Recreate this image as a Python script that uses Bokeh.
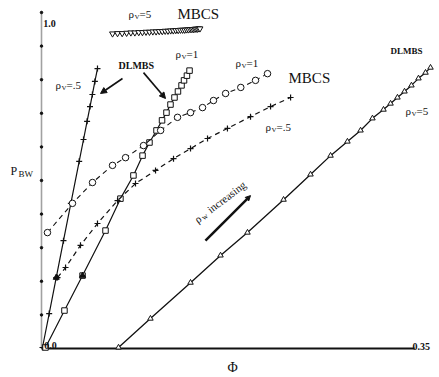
from bokeh.plotting import figure
from bokeh.models import Range1d, Arrow, NormalHead
from bokeh.core.properties import value
from bokeh.embed import file_html
from bokeh.resources import INLINE

# ---------------- data (phi, P_BW) ----------------
dl_v05_phi = [0.0009, 0.0071, 0.0136, 0.0203, 0.0271, 0.0348, 0.0388, 0.0421, 0.0448, 0.0470, 0.0493, 0.0517]
dl_v05_p   = [0.003, 0.104, 0.211, 0.321, 0.432, 0.557, 0.622, 0.676, 0.720, 0.756, 0.795, 0.833]

dl_v1_phi = [0.0037, 0.0212, 0.0379, 0.0591, 0.0729, 0.0849, 0.0933, 0.0997, 0.1062, 0.1113,
             0.1154, 0.1191, 0.1228, 0.1260, 0.1293, 0.1316, 0.1343, 0.1367]
dl_v1_p   = [0.003, 0.113, 0.217, 0.351, 0.446, 0.515, 0.574, 0.613, 0.649, 0.679,
             0.702, 0.726, 0.747, 0.765, 0.783, 0.798, 0.812, 0.827]

dl_v5_phi = [0.0711, 0.1006, 0.1376, 0.1653, 0.1902, 0.2235, 0.2484, 0.2669, 0.2825, 0.2946,
             0.3056, 0.3158, 0.3223, 0.3287, 0.3352, 0.3416, 0.3481, 0.3546, 0.3592]
dl_v5_p   = [0.003, 0.089, 0.196, 0.277, 0.345, 0.443, 0.518, 0.574, 0.616, 0.649,
             0.685, 0.711, 0.729, 0.747, 0.765, 0.783, 0.804, 0.821, 0.836]

mb_v05_phi = [0.0148, 0.0222, 0.0360, 0.0517, 0.0702, 0.0868, 0.1053, 0.1219, 0.1376, 0.1533,
              0.1717, 0.1930, 0.2115, 0.2300]
mb_v05_p   = [0.211, 0.241, 0.307, 0.372, 0.440, 0.491, 0.530, 0.565, 0.595, 0.625,
              0.655, 0.690, 0.720, 0.747]

mb_v1_phi = [0.0055, 0.0286, 0.0471, 0.0656, 0.0776, 0.0942, 0.1100, 0.1256, 0.1376, 0.1487,
             0.1588, 0.1700, 0.1840, 0.1976, 0.2087]
mb_v1_p   = [0.345, 0.432, 0.494, 0.545, 0.568, 0.604, 0.649, 0.688, 0.702, 0.717,
             0.738, 0.759, 0.777, 0.798, 0.818]

mb_v5_phi = [0.0656, 0.0702, 0.0745, 0.0786, 0.0825, 0.0862, 0.0898, 0.0932, 0.0965, 0.0997,
             0.1028, 0.1058, 0.1087, 0.1115, 0.1142, 0.1168, 0.1193, 0.1217, 0.1240, 0.1262,
             0.1283, 0.1303, 0.1322, 0.1340, 0.1357, 0.1373, 0.1388, 0.1402, 0.1415, 0.1427,
             0.1440, 0.1452, 0.1463]
mb_v5_p   = [0.937, 0.938, 0.938, 0.939, 0.940, 0.940, 0.941, 0.941, 0.942, 0.942,
             0.943, 0.943, 0.944, 0.944, 0.945, 0.945, 0.946, 0.946, 0.947, 0.947,
             0.948, 0.948, 0.948, 0.949, 0.949, 0.950, 0.950, 0.950, 0.951, 0.951,
             0.951, 0.952, 0.952]

start_phi = [0.0136, 0.0379]
start_p   = [0.211, 0.217]

y_ticks = [0.1, 0.2, 0.3, 0.4, 0.5, 0.6, 0.7, 0.8, 0.9, 1.0]

SERIF = "Liberation Serif"
INK = "#111111"

p = figure(width=439, height=377, x_range=Range1d(-0.03786, 0.3675), y_range=Range1d(-0.0863, 1.0357),
           min_border=0, toolbar_location=None, output_backend="svg",
           x_axis_location=None, y_axis_location=None)
p.grid.visible = False
p.outline_line_color = None
p.background_fill_color = "white"
p.border_fill_color = "white"

# axes drawn in data space
p.line(x=[0, 0], y=[0, 1.006], line_color="#444444", line_width=1.6, line_dash="1 1")
p.scatter(x=[0] * len(y_ticks), y=y_ticks, size=2.5, color=INK)
p.line(x=[0, 0.3445], y=[0, 0], line_color=INK, line_width=2)

# curves
p.line(dl_v05_phi, dl_v05_p, line_color=INK, line_width=1.2)
p.scatter(dl_v05_phi, dl_v05_p, marker="cross", size=6, line_color=INK, line_width=1.2)

p.line(dl_v1_phi, dl_v1_p, line_color=INK, line_width=1.2)
p.scatter(dl_v1_phi, dl_v1_p, marker="square", size=5.5, line_color=INK, fill_color="white", line_width=1)

p.line(dl_v5_phi, dl_v5_p, line_color=INK, line_width=1.3)
p.scatter(dl_v5_phi, dl_v5_p, marker="triangle", size=5.5, line_color=INK, fill_color="white", line_width=1)

p.line(mb_v05_phi, mb_v05_p, line_color=INK, line_width=1.2, line_dash="5 4")
p.scatter(mb_v05_phi, mb_v05_p, marker="cross", size=6, line_color=INK, line_width=1.2)

p.line(mb_v1_phi, mb_v1_p, line_color=INK, line_width=1.1, line_dash="5 4")
p.scatter(mb_v1_phi, mb_v1_p, marker="circle", size=6.5, line_color=INK, fill_color="white", line_width=1)

p.line(mb_v5_phi, mb_v5_p, line_color=INK, line_width=1.1)
p.scatter(mb_v5_phi, mb_v5_p, marker="inverted_triangle", size=6, line_color=INK, fill_color="white", line_width=1)

p.scatter(start_phi, start_p, marker="triangle", size=6, line_color=INK, fill_color=INK)


def txt(x, y, s, size, align="left", bold=False, xo=0, yo=0, angle=0):
    p.text(x=[x], y=[y], text=[s], text_font=value(SERIF), text_font_size=f"{size}px",
           text_align=align, text_baseline="middle", text_color=INK,
           text_font_style="bold" if bold else "normal", x_offset=xo, y_offset=yo,
           angle=angle, angle_units="deg")


def rho(x, y, sub, rest, size=11):
    txt(x, y, "ρ", size)
    txt(x, y, sub, size - 4, xo=6, yo=3)
    txt(x, y, rest, size, xo=11)


rho(0.0803, 0.997, "V", "=5")
txt(0.1256, 0.997, "MBCS", 15)
rho(0.1237, 0.875, "V", "=1")
txt(0.0711, 0.842, "DLMBS", 10, bold=True)
rho(0.0129, 0.783, "V", "=.5")
rho(0.1791, 0.851, "V", "=1")
txt(0.2281, 0.8065, "MBCS", 15)
rho(0.2068, 0.658, "V", "=.5")
txt(0.3223, 0.884, "DLMBS", 9, bold=True)
rho(0.3361, 0.708, "V", "=5")

# rotated "rho_w increasing"
txt(0.1422, 0.381, "ρ", 11, angle=37)
txt(0.1422, 0.381, "w", 8, angle=37, xo=7, yo=-2)
txt(0.1422, 0.381, "increasing", 11, angle=37, xo=13, yo=-10)

# axis labels / tick labels
txt(-0.0286, 0.527, "P", 12)
txt(-0.0286, 0.527, "BW", 9, xo=8, yo=3)
txt(0.1764, -0.0565, "Φ", 14, align="center")
txt(0.0083, 0.009, "0.0", 10, align="center", bold=True)
txt(0.3426, 0.006, "0.35", 10, bold=True)
txt(0.0074, 0.967, "1.0", 10, align="center", bold=True)

# arrows
p.add_layout(Arrow(end=NormalHead(size=6, fill_color=INK, line_color=INK), x_start=0.0748, y_start=0.8036,
                   x_end=0.0545, y_end=0.759, line_color=INK, line_width=1.6))
p.add_layout(Arrow(end=NormalHead(size=6, fill_color=INK, line_color=INK), x_start=0.0942, y_start=0.821,
                   x_end=0.1145, y_end=0.744, line_color=INK, line_width=1.6))
p.add_layout(Arrow(end=NormalHead(size=5, fill_color=INK, line_color=INK), x_start=0.1514, y_start=0.321,
                   x_end=0.193, y_end=0.455, line_color=INK, line_width=2.5))

open("out.html", "w").write(file_html(p, INLINE))
